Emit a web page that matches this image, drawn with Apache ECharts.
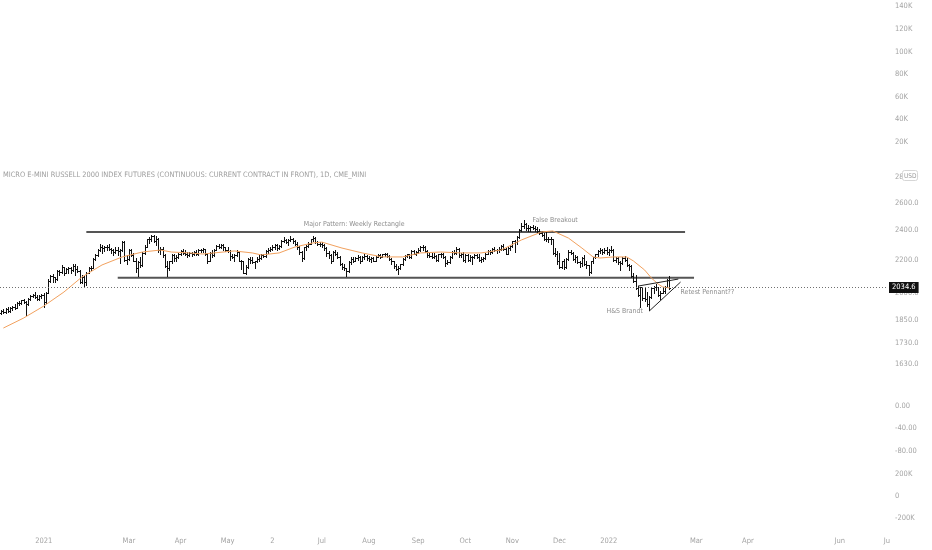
<!DOCTYPE html>
<html>
<head>
<meta charset="utf-8">
<script src="https://cdn.jsdelivr.net/npm/echarts@6/dist/echarts.min.js"></script>
<style>
html,body{margin:0;padding:0;background:#fff;}
#c{width:932px;height:550px;}
</style>
</head>
<body>
<div id="c"></div>
<script>
// ---------------- DATA ----------------
const chartTitle = 'MICRO E-MINI RUSSELL 2000 INDEX FUTURES (CONTINUOUS: CURRENT CONTRACT IN FRONT), 1D, CME_MINI';
const firstDay = '2020-12-04';
const lastAxisDay = '2022-07-01';
const holidays = ['2020-12-25','2021-01-01','2021-01-18','2021-02-15','2021-04-02','2021-05-31','2021-07-05',
  '2021-09-06','2021-11-25','2021-12-24','2022-01-17','2022-02-21','2022-04-15','2022-05-30','2022-06-20'];

// daily bars [open, high, low, close] starting at firstDay
const bars = [
  // Dec 2020
  [1890,1905,1885,1900],[1900,1912,1888,1895],[1895,1915,1890,1912],[1912,1925,1896,1903],[1903,1922,1895,1918],
  [1918,1930,1908,1925],[1925,1938,1912,1918],[1918,1950,1915,1945],[1945,1958,1935,1948],[1948,1965,1940,1960],
  [1960,1968,1945,1952],[1952,1955,1880,1942],[1942,1972,1935,1968],[1968,1990,1960,1985],[1985,1995,1978,1990],
  [1990,2008,1975,1980],[1980,1992,1962,1970],[1970,1990,1965,1985],[1985,1998,1975,1992],
  // Jan 2021
  [1992,2000,1925,1950],[1950,2010,1945,2005],[2005,2085,2000,2075],[2075,2110,2068,2105],[2105,2115,2070,2095],
  [2095,2100,2070,2085],[2085,2140,2080,2135],[2135,2140,2110,2130],[2130,2170,2125,2160],[2160,2162,2110,2125],
  [2125,2150,2120,2145],[2145,2160,2125,2150],[2150,2158,2125,2140],[2140,2180,2135,2165],
  [2165,2178,2110,2148],[2148,2165,2130,2135],[2135,2140,2060,2070],[2070,2110,2060,2100],[2100,2105,2035,2065],
  // Feb 2021
  [2065,2130,2050,2125],[2125,2160,2120,2150],[2150,2165,2140,2155],[2155,2215,2150,2210],[2210,2240,2205,2235],
  [2235,2275,2230,2270],[2270,2305,2262,2290],[2290,2300,2250,2280],[2280,2295,2260,2285],[2285,2298,2270,2290],
  [2290,2305,2265,2275],[2275,2280,2250,2270],[2270,2275,2235,2255],[2255,2285,2250,2270],
  [2270,2285,2235,2260],[2260,2275,2185,2265],[2265,2330,2260,2320],[2320,2325,2200,2205],[2205,2235,2180,2210],
  // Mar 2021
  [2210,2275,2205,2270],[2270,2275,2230,2235],[2235,2250,2195,2200],[2200,2215,2130,2150],[2150,2195,2105,2190],
  [2190,2220,2160,2170],[2170,2255,2165,2250],[2250,2300,2240,2290],[2290,2345,2285,2340],[2340,2355,2315,2345],
  [2345,2368,2330,2360],[2360,2370,2320,2330],[2330,2365,2300,2345],[2345,2350,2255,2265],[2265,2285,2240,2275],
  [2275,2285,2225,2235],[2235,2240,2160,2165],[2165,2195,2105,2150],[2150,2200,2140,2195],[2195,2240,2185,2235],
  [2235,2240,2195,2215],[2215,2235,2200,2225],[2225,2250,2215,2240],
  // Apr 2021
  [2240,2270,2235,2260],[2260,2275,2240,2250],[2250,2265,2238,2245],[2245,2255,2225,2235],[2235,2255,2228,2250],
  [2250,2258,2232,2245],[2245,2262,2235,2255],[2255,2265,2235,2240],[2240,2275,2238,2268],[2268,2278,2255,2265],
  [2265,2280,2258,2272],[2272,2275,2235,2245],[2245,2250,2185,2200],[2200,2255,2195,2250],[2250,2265,2220,2235],
  [2235,2275,2230,2270],[2270,2300,2265,2295],[2295,2305,2280,2290],[2290,2310,2280,2300],[2300,2305,2270,2285],
  [2285,2290,2260,2270],
  // May 2021
  [2270,2285,2255,2262],[2262,2265,2205,2230],[2230,2245,2215,2225],[2225,2240,2200,2235],[2235,2265,2230,2255],
  [2255,2260,2195,2200],[2200,2205,2145,2195],[2195,2200,2120,2125],[2125,2170,2115,2160],[2160,2215,2155,2210],
  [2210,2220,2185,2205],[2205,2225,2185,2190],[2190,2200,2150,2195],[2195,2225,2190,2210],[2210,2235,2200,2215],
  [2215,2240,2210,2235],[2235,2245,2220,2230],[2230,2265,2225,2260],[2260,2280,2250,2270],[2270,2285,2260,2275],
  // Jun 2021
  [2275,2300,2265,2285],[2285,2310,2275,2300],[2300,2305,2270,2280],[2280,2300,2275,2295],
  [2295,2335,2290,2330],[2330,2358,2320,2335],[2335,2345,2315,2320],[2320,2340,2300,2335],[2335,2360,2325,2345],
  [2345,2350,2315,2325],[2325,2335,2300,2310],[2310,2320,2275,2290],[2290,2295,2240,2255],[2255,2262,2200,2215],
  [2215,2290,2210,2285],[2285,2300,2265,2295],[2295,2320,2290,2310],[2310,2345,2305,2340],[2340,2360,2330,2350],
  [2350,2355,2315,2320],[2320,2330,2300,2310],[2310,2320,2295,2310],
  // Jul 2021
  [2310,2320,2285,2300],[2300,2305,2270,2280],[2280,2285,2230,2250],[2250,2260,2215,2235],[2235,2240,2185,2200],
  [2200,2260,2195,2255],[2255,2265,2235,2245],[2245,2255,2215,2220],[2220,2230,2170,2175],[2175,2185,2145,2160],
  [2160,2180,2140,2150],[2150,2155,2105,2135],[2135,2195,2130,2190],[2190,2220,2180,2210],[2210,2220,2190,2200],
  [2200,2225,2195,2215],[2215,2235,2205,2225],[2225,2230,2185,2200],[2200,2230,2195,2220],[2220,2240,2210,2230],
  [2230,2235,2205,2215],
  // Aug 2021
  [2215,2230,2200,2210],[2210,2220,2190,2215],[2215,2220,2195,2200],[2200,2230,2195,2225],[2225,2245,2220,2235],
  [2235,2240,2215,2225],[2225,2245,2220,2240],[2240,2250,2230,2245],[2245,2250,2225,2230],[2230,2235,2205,2210],
  [2210,2215,2175,2195],[2195,2200,2155,2165],[2165,2180,2140,2145],[2145,2165,2115,2155],[2155,2180,2145,2175],
  [2175,2215,2170,2210],[2210,2235,2205,2230],[2230,2245,2220,2240],[2240,2245,2215,2220],[2220,2265,2215,2260],
  [2260,2265,2240,2245],[2245,2260,2235,2255],
  // Sep 2021
  [2255,2280,2250,2270],[2270,2295,2260,2285],[2285,2300,2270,2290],[2290,2295,2255,2260],[2260,2265,2225,2235],
  [2235,2250,2220,2230],[2230,2250,2215,2225],[2225,2250,2215,2230],[2230,2235,2195,2205],[2205,2245,2200,2240],
  [2240,2250,2225,2245],[2245,2250,2215,2225],[2225,2228,2165,2185],[2185,2205,2180,2190],[2190,2230,2185,2220],
  [2220,2260,2215,2255],[2255,2265,2240,2250],[2250,2290,2245,2275],[2275,2280,2225,2235],[2235,2250,2220,2240],
  [2240,2255,2200,2205],
  // Oct 2021
  [2205,2240,2190,2235],[2235,2240,2195,2205],[2205,2235,2200,2225],[2225,2230,2180,2220],[2220,2245,2215,2235],
  [2235,2245,2215,2225],[2225,2240,2200,2205],[2205,2220,2190,2210],[2210,2225,2195,2215],[2215,2250,2210,2245],
  [2245,2265,2240,2260],[2260,2265,2240,2255],[2255,2280,2250,2275],[2275,2285,2260,2270],[2270,2275,2250,2265],
  [2265,2285,2255,2275],[2275,2300,2270,2295],[2295,2305,2270,2275],[2275,2280,2240,2245],[2245,2285,2240,2280],
  [2280,2300,2270,2295],
  // Nov 2021
  [2295,2330,2285,2325],[2325,2335,2255,2320],[2320,2360,2310,2355],[2355,2410,2350,2405],[2405,2450,2400,2430],
  [2430,2472,2420,2445],[2445,2455,2405,2415],[2415,2440,2395,2420],[2420,2435,2400,2425],[2425,2440,2410,2415],
  [2415,2430,2395,2410],[2410,2425,2390,2400],[2400,2410,2375,2385],[2385,2395,2360,2370],[2370,2380,2335,2345],
  [2345,2390,2330,2340],[2340,2355,2320,2345],[2345,2355,2310,2340],[2340,2345,2240,2250],
  [2250,2280,2230,2240],[2240,2260,2180,2195],
  // Dec 2021
  [2195,2250,2150,2160],[2160,2200,2150,2195],[2195,2210,2145,2160],[2160,2215,2155,2210],[2210,2265,2205,2255],
  [2255,2270,2240,2250],[2250,2255,2205,2210],[2210,2235,2190,2225],[2225,2230,2185,2190],[2190,2200,2160,2185],
  [2185,2225,2165,2215],[2215,2235,2170,2180],[2180,2200,2155,2170],[2170,2172,2110,2130],[2130,2200,2125,2195],
  [2195,2225,2185,2220],[2220,2245,2215,2240],[2240,2265,2230,2260],[2260,2280,2250,2265],[2265,2275,2240,2255],
  [2255,2280,2250,2270],[2270,2285,2245,2255],
  // Jan 2022
  [2255,2275,2235,2270],[2270,2295,2255,2265],[2265,2275,2200,2205],[2205,2225,2190,2215],[2215,2225,2180,2190],
  [2190,2195,2140,2185],[2185,2220,2175,2215],[2215,2230,2195,2205],[2205,2215,2165,2170],[2170,2180,2140,2165],
  [2165,2170,2095,2105],[2105,2125,2070,2075],[2075,2110,2025,2030],[2030,2045,1985,1990],
  [1990,2040,1925,2035],[2035,2040,1960,1975],[1975,2035,1955,1970],[1970,2010,1930,1940],[1940,1985,1905,1980],
  [1980,2035,1975,2030],
  // Feb 2022
  [2030,2045,2005,2040],[2040,2055,2020,2035],[2035,2040,1985,1990],[1990,2015,1970,2005],
  [2005,2030,2000,2015],[2015,2045,2005,2040],[2040,2085,2035,2080],[2080,2105,2025,2034.6]
];
const lastPrice = 2034.6;

// moving average
const maPoints = [
  ['2020-12-07',1809],['2020-12-18',1862],['2021-01-04',1928],['2021-01-15',2008],['2021-01-28',2097],
  ['2021-02-10',2172],['2021-02-24',2223],['2021-03-09',2255],['2021-03-19',2268],['2021-03-26',2255],
  ['2021-04-08',2249],['2021-04-16',2242],['2021-04-29',2255],['2021-05-06',2262],['2021-05-18',2249],
  ['2021-05-24',2236],['2021-06-04',2249],['2021-06-15',2288],['2021-06-25',2315],['2021-07-01',2321],
  ['2021-07-15',2281],['2021-07-28',2249],['2021-08-10',2223],['2021-08-23',2223],['2021-09-02',2249],
  ['2021-09-16',2255],['2021-09-29',2249],['2021-10-12',2249],['2021-10-25',2268],['2021-11-05',2335],
  ['2021-11-18',2390],['2021-11-26',2397],['2021-12-07',2348],['2021-12-15',2281],['2021-12-22',2223],
  ['2021-12-28',2216],['2022-01-05',2223],['2022-01-13',2223],['2022-01-19',2197],['2022-01-26',2140],
  ['2022-01-31',2091],['2022-02-03',2055],['2022-02-07',2038],['2022-02-10',2032]
];

// drawn trend lines [date, price]
const rectTop = [['2021-02-01',2390],['2022-02-22',2390]];
const rectBottom = [['2021-02-22',2093],['2022-02-28',2093]];
const pennantUpper = [['2022-01-21',2043],['2022-02-16',2085]];
const pennantLower = [['2022-01-28',1900],['2022-02-17',2067]];

// text notes anchored at [date, price] (left edge, vertical middle)
const notes = [
  ['Major Pattern: Weekly Rectangle','2021-06-21',2441],
  ['False Breakout','2021-11-12',2470],
  ['H&S Brandt','2021-12-31',1897],
  ['Retest Pennant??','2022-02-17',2008]
];

// right-scale labels of the price pane
const priceTicks = [2800,2600,2400,2200,2000,1850,1730,1630];
// time-scale labels
const timeTickDates = ['2021-01-04','2021-03-01','2021-04-01','2021-05-03','2021-06-01','2021-07-01','2021-08-02',
  '2021-09-01','2021-10-01','2021-11-01','2021-12-01','2022-01-03','2022-03-01','2022-04-01','2022-06-01','2022-07-01'];
const timeTickLabels = ['2021','Mar','Apr','May','2','Jul','Aug','Sep','Oct','Nov','Dec','2022','Mar','Apr','Jun','Ju'];

// ---------------- BUILD ----------------
const cats = [];
(function(){
  const p = s => { const a = s.split('-').map(Number); return Date.UTC(a[0], a[1]-1, a[2]); };
  for (let t = p(firstDay); t <= p(lastAxisDay); t += 86400000) {
    const d = new Date(t), wd = d.getUTCDay(), s = d.toISOString().slice(0,10);
    if (wd === 0 || wd === 6 || holidays.indexOf(s) >= 0) continue;
    cats.push(s);
  }
})();
const idxOf = d => cats.indexOf(d);

const FONT = "'DejaVu Sans Condensed','Liberation Sans Narrow','DejaVu Sans',sans-serif";
const LBL = '#a4a4a4';
const GRID_L = -3, GRID_R = 44;

const barData = bars.map((b, i) => [i, b[0], b[1], b[2], b[3]]);

function renderBar(params, api) {
  const i = api.value(0);
  const o = api.coord([i, api.value(1)]);
  const h = api.coord([i, api.value(2)]);
  const l = api.coord([i, api.value(3)]);
  const c = api.coord([i, api.value(4)]);
  const cx = Math.round(o[0]) + 0.5;
  const oy = Math.round(o[1]) + 0.5, cy = Math.round(c[1]) + 0.5;
  const st = {stroke: '#111', lineWidth: 1};
  return {type: 'group', children: [
    {type: 'line', shape: {x1: cx, y1: Math.round(h[1]), x2: cx, y2: Math.round(l[1]) + 1}, style: st},
    {type: 'line', shape: {x1: cx - 1.5, y1: oy, x2: cx, y2: oy}, style: st},
    {type: 'line', shape: {x1: cx, y1: cy, x2: cx + 1.5, y2: cy}, style: st}
  ]};
}

const refY = 287.5, pxPerLn = 345, mainTop = 165, mainH = 230;
const yMax = lastPrice * Math.exp((refY - mainTop) / pxPerLn);
const yMin = lastPrice * Math.exp((refY - (mainTop + mainH)) / pxPerLn);

const paneAxis = (gi, min, max, interval, fmt) => ({
  type: 'value', gridIndex: gi, position: 'right', min, max, interval,
  splitLine: {show: false}, axisLine: {show: false}, axisTick: {show: false},
  axisLabel: {show: true, showMinLabel: true, showMaxLabel: true, align: 'left', margin: 7,
    color: LBL, fontSize: 7.5, fontFamily: FONT, formatter: fmt}
});
const kFmt = v => v === 0 ? '0' : (v / 1000) + 'K';

const chart = echarts.init(document.getElementById('c'), null, {renderer: 'canvas'});
const option = {
  animation: false,
  backgroundColor: '#ffffff',
  grid: [
    {left: GRID_L, right: GRID_R, top: mainTop, height: mainH},
    {left: GRID_L, right: GRID_R, top: 6.5, height: 135.5},
    {left: GRID_L, right: GRID_R, top: 406, height: 45},
    {left: GRID_L, right: GRID_R, top: 474, height: 44}
  ],
  xAxis: [
    {type: 'category', gridIndex: 0, data: cats, boundaryGap: true, show: false},
    {type: 'category', gridIndex: 1, data: cats, boundaryGap: true, show: false},
    {type: 'category', gridIndex: 2, data: cats, boundaryGap: true, show: false},
    {type: 'category', gridIndex: 3, data: cats, boundaryGap: true,
      axisLine: {show: false}, axisTick: {show: false}, splitLine: {show: false},
      axisLabel: {show: true, margin: 19, color: LBL, fontSize: 7.5, fontFamily: FONT,
        interval: (i, v) => timeTickDates.indexOf(v) >= 0,
        formatter: v => timeTickLabels[timeTickDates.indexOf(v)]}}
  ],
  yAxis: [
    {type: 'log', gridIndex: 0, logBase: 10, min: yMin, max: yMax, show: false, splitLine: {show: false}},
    paneAxis(1, 20000, 140000, 20000, kFmt),
    paneAxis(2, -80, 0, 40, v => v.toFixed(2)),
    paneAxis(3, -200000, 200000, 200000, kFmt)
  ],
  series: [
    {
      type: 'custom', name: 'bars', xAxisIndex: 0, yAxisIndex: 0, renderItem: renderBar,
      data: barData, encode: {x: 0, y: [1, 2, 3, 4]}, clip: true, z: 3,
      markLine: {
        silent: true, symbol: 'none', animation: false,
        lineStyle: {type: [1, 2], color: '#6f6f6f', width: 1},
        label: {show: true, position: 'end', distance: 1, formatter: lastPrice.toFixed(1),
          color: '#fff', backgroundColor: '#111', padding: [2, 3, 1, 3], fontSize: 7.5, fontFamily: FONT},
        data: [{yAxis: lastPrice}]
      }
    },
    {
      type: 'line', name: 'MA', xAxisIndex: 0, yAxisIndex: 0, data: maPoints, showSymbol: false,
      lineStyle: {color: '#f2a15e', width: 1}, z: 4, silent: true
    },
    ...[rectTop, rectBottom].map(d => ({
      type: 'line', xAxisIndex: 0, yAxisIndex: 0, data: d, showSymbol: false, silent: true, z: 2,
      lineStyle: {color: '#555555', width: 2}
    })),
    ...[pennantUpper, pennantLower].map(d => ({
      type: 'line', xAxisIndex: 0, yAxisIndex: 0, data: d, showSymbol: false, silent: true, z: 5,
      lineStyle: {color: '#222222', width: 1}
    }))
  ]
};
chart.setOption(option);

// texts placed through the chart's own scales
const g = [];
const txt = (text, x, y, size, color, extra) => Object.assign({
  type: 'text', x, y, z: 1, silent: true,
  style: {text, fill: color, fontSize: size, fontFamily: FONT, verticalAlign: 'middle', align: 'left'}
}, extra || {});
g.push(txt(chartTitle, 3, 175, 7.4, '#9c9c9c'));
priceTicks.forEach(p => {
  const y = chart.convertToPixel({yAxisIndex: 0}, p);
  g.push(txt(p.toFixed(1), 895, y, 7.5, LBL));
});
const y2800 = chart.convertToPixel({yAxisIndex: 0}, 2800);
g.push({type: 'rect', z: 2, silent: true, shape: {x: 902.5, y: Math.round(y2800) - 6.5, width: 15, height: 10, r: 2},
  style: {fill: '#fff', stroke: '#d6d6d6', lineWidth: 1}});
g.push(txt('USD', 904, y2800 - 1.5, 6.5, '#9a9a9a', {z: 3}));
notes.forEach(n => {
  const p = chart.convertToPixel({gridIndex: 0}, [idxOf(n[1]), n[2]]);
  g.push(txt(n[0], p[0], p[1], 6.9, '#8d8d8d'));
});
chart.setOption({graphic: g});
</script>
</body>
</html>
